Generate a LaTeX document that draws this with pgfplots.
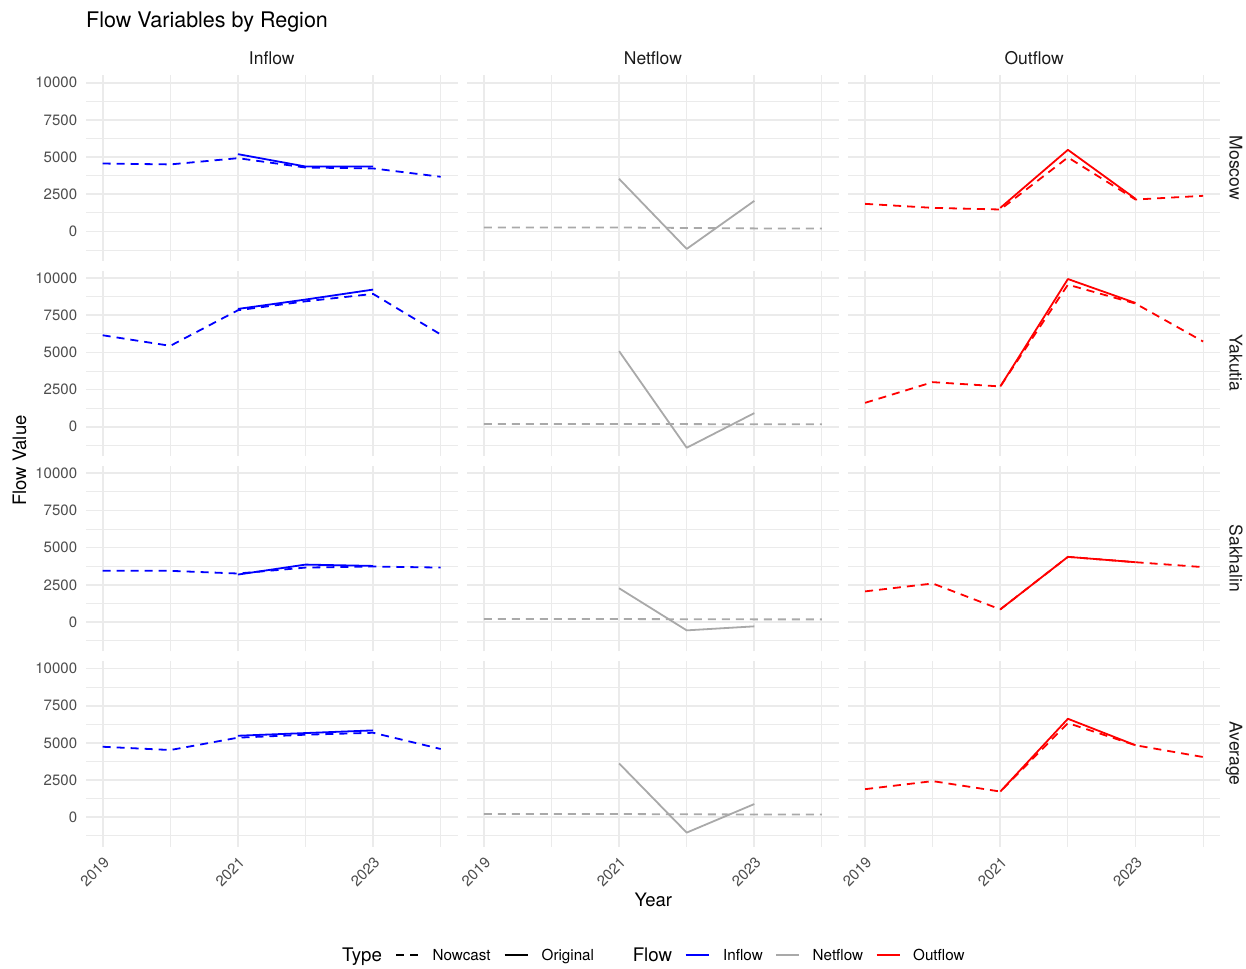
\documentclass[border=0pt]{standalone}
\usepackage{fontspec}
\setmainfont{TeX Gyre Heros}
\usepackage{pgfplots}
\pgfplotsset{compat=1.18}
\usepackage{pgfplotstable}

\definecolor{gridc}{HTML}{EBEBEB}
\definecolor{tickc}{HTML}{4D4D4D}
\definecolor{stripc}{HTML}{1A1A1A}
\definecolor{inc}{HTML}{0000FF}
\definecolor{netc}{HTML}{A9A9A9}
\definecolor{outc}{HTML}{FF0000}
\newcommand\fsz[1]{\fontsize{#1}{#1}\selectfont}
\newcommand\tl[1]{\mbox{\fontsize{15}{15}\selectfont\color{tickc}#1}}

% year, Nowcast (N) and Original (O) values per flow
\pgfplotstableread{
year inN netN outN inO netO outO
2019 4570 270 1860 nan nan nan
2020 4510 270 1590 nan nan nan
2021 4930 270 1480 5200 3540 1590
2022 4300 240 4980 4370 -1170 5490
2023 4240 210 2150 4370 2060 2200
2024 3680 200 2400 nan nan nan
}\moscow
\pgfplotstableread{
year inN netN outN inO netO outO
2019 6150 190 1610 nan nan nan
2020 5440 190 3000 nan nan nan
2021 7830 190 2710 7920 5080 2710
2022 8430 180 9550 8550 -1410 9930
2023 8930 170 8280 9220 920 8320
2024 6200 170 5730 nan nan nan
}\yakutia
\pgfplotstableread{
year inN netN outN inO netO outO
2019 3440 200 2060 nan nan nan
2020 3440 200 2590 nan nan nan
2021 3260 200 850 3190 2270 850
2022 3660 190 4380 3860 -560 4380
2023 3730 180 4020 3770 -290 4020
2024 3660 180 3690 nan nan nan
}\sakhalin
\pgfplotstableread{
year inN netN outN inO netO outO
2019 4740 220 1890 nan nan nan
2020 4520 220 2430 nan nan nan
2021 5350 220 1730 5480 3620 1730
2022 5550 200 6330 5660 -1030 6620
2023 5680 190 4840 5840 890 4840
2024 4590 190 4050 nan nan nan
}\average

\pgfplotsset{
  panel/.style={
    scale only axis, width=371.8pt, height=185.7pt, anchor=south west,
    xmin=2018.75, xmax=2024.25, ymin=-1980, ymax=10500,
    scaled x ticks=false, scaled y ticks=false,
    xtick={2019,2021,2023}, minor xtick={2020,2022,2024},
    ytick={0,2500,5000,7500,10000}, minor ytick={-1250,1250,3750,6250,8750},
    xmajorgrids, ymajorgrids, xminorgrids, yminorgrids,
    major grid style={draw=gridc, line width=1.7pt},
    minor grid style={draw=gridc, line width=0.9pt},
    axis line style={draw=none},
    major tick length=0pt, minor tick length=0pt,
    xticklabels={}, yticklabels={},
    yticklabel style={anchor=east, inner sep=0pt},
    yticklabel shift=8.5pt,
    xticklabel style={rotate=45, anchor=north east, inner sep=0pt},
    xticklabel shift=9pt,
  },
  bottomrow/.style={xticklabels={\tl{2019},\tl{2021},\tl{2023}}},
  leftcol/.style={yticklabels={\tl{0},\tl{2500},\tl{5000},\tl{7500},\tl{10000}}},
  nowst/.style={dash pattern=on 8pt off 6pt},
  ln/.style={line width=1.8pt, line join=round, no markers},
}

\begin{document}
\begin{tikzpicture}[x=1pt,y=1pt]
\useasboundingbox (0,0) rectangle (1246,968);

% ---------- Row 1: Moscow ----------
\begin{axis}[panel, leftcol, at={(85.8pt,707pt)}]
\addplot[ln, inc, nowst] table[x=year,y=inN]{\moscow};
\addplot[ln, inc] table[x=year,y=inO]{\moscow};
\end{axis}
\begin{axis}[panel, at={(467.0pt,707pt)}]
\addplot[ln, netc, nowst] table[x=year,y=netN]{\moscow};
\addplot[ln, netc] table[x=year,y=netO]{\moscow};
\end{axis}
\begin{axis}[panel, at={(848.2pt,707pt)}]
\addplot[ln, outc, nowst] table[x=year,y=outN]{\moscow};
\addplot[ln, outc] table[x=year,y=outO]{\moscow};
\end{axis}

% ---------- Row 2: Yakutia ----------
\begin{axis}[panel, leftcol, at={(85.8pt,511.75pt)}]
\addplot[ln, inc, nowst] table[x=year,y=inN]{\yakutia};
\addplot[ln, inc] table[x=year,y=inO]{\yakutia};
\end{axis}
\begin{axis}[panel, at={(467.0pt,511.75pt)}]
\addplot[ln, netc, nowst] table[x=year,y=netN]{\yakutia};
\addplot[ln, netc] table[x=year,y=netO]{\yakutia};
\end{axis}
\begin{axis}[panel, at={(848.2pt,511.75pt)}]
\addplot[ln, outc, nowst] table[x=year,y=outN]{\yakutia};
\addplot[ln, outc] table[x=year,y=outO]{\yakutia};
\end{axis}

% ---------- Row 3: Sakhalin ----------
\begin{axis}[panel, leftcol, at={(85.8pt,316.5pt)}]
\addplot[ln, inc, nowst] table[x=year,y=inN]{\sakhalin};
\addplot[ln, inc] table[x=year,y=inO]{\sakhalin};
\end{axis}
\begin{axis}[panel, at={(467.0pt,316.5pt)}]
\addplot[ln, netc, nowst] table[x=year,y=netN]{\sakhalin};
\addplot[ln, netc] table[x=year,y=netO]{\sakhalin};
\end{axis}
\begin{axis}[panel, at={(848.2pt,316.5pt)}]
\addplot[ln, outc, nowst] table[x=year,y=outN]{\sakhalin};
\addplot[ln, outc] table[x=year,y=outO]{\sakhalin};
\end{axis}

% ---------- Row 4: Average ----------
\begin{axis}[panel, leftcol, bottomrow, at={(85.8pt,121.25pt)}]
\addplot[ln, inc, nowst] table[x=year,y=inN]{\average};
\addplot[ln, inc] table[x=year,y=inO]{\average};
\end{axis}
\begin{axis}[panel, bottomrow, at={(467.0pt,121.25pt)}]
\addplot[ln, netc, nowst] table[x=year,y=netN]{\average};
\addplot[ln, netc] table[x=year,y=netO]{\average};
\end{axis}
\begin{axis}[panel, bottomrow, at={(848.2pt,121.25pt)}]
\addplot[ln, outc, nowst] table[x=year,y=outN]{\average};
\addplot[ln, outc] table[x=year,y=outO]{\average};
\end{axis}

% ---------- Titles and strips ----------
\node[anchor=base west, inner sep=0pt, font=\fsz{21.5}] at (86,940) {Flow Variables by Region};
\node[anchor=base, inner sep=0pt, font=\fsz{17.5}, text=stripc] at (271.7,903.7) {Inflow};
\node[anchor=base, inner sep=0pt, font=\fsz{17.5}, text=stripc] at (652.9,903.7) {Netflow};
\node[anchor=base, inner sep=0pt, font=\fsz{17.5}, text=stripc] at (1034.1,903.7) {Outflow};
\node[anchor=base, rotate=-90, inner sep=0pt, font=\fsz{17.5}, text=stripc] at (1229.5,800.1) {Moscow};
\node[anchor=base, rotate=-90, inner sep=0pt, font=\fsz{17.5}, text=stripc] at (1229.5,604.9) {Yakutia};
\node[anchor=base, rotate=-90, inner sep=0pt, font=\fsz{17.5}, text=stripc] at (1229.5,409.6) {Sakhalin};
\node[anchor=base, rotate=-90, inner sep=0pt, font=\fsz{17.5}, text=stripc] at (1229.5,214.4) {Average};
\node[anchor=base, rotate=90, inner sep=0pt, font=\fsz{18.5}] at (26,507.5) {Flow Value};
\node[anchor=base, inner sep=0pt, font=\fsz{18.5}] at (653.3,61.8) {Year};

% ---------- Legend ----------
\node[anchor=base west, inner sep=0pt, font=\fsz{18.7}] at (342,6.3) {Type};
\draw[black, line width=1.8pt, dash pattern=on 8pt off 6pt] (396,13) -- (419,13);
\node[anchor=base west, inner sep=0pt, font=\fsz{15.2}] at (432.5,7.5) {Nowcast};
\draw[black, line width=1.8pt] (504.5,13) -- (527.5,13);
\node[anchor=base west, inner sep=0pt, font=\fsz{15.2}] at (541.5,7.5) {Original};
\node[anchor=base west, inner sep=0pt, font=\fsz{18.7}] at (632.6,6.3) {Flow};
\draw[inc, line width=1.8pt] (685.5,13) -- (708.5,13);
\node[anchor=base west, inner sep=0pt, font=\fsz{15.2}] at (723,7.5) {Inflow};
\draw[netc, line width=1.8pt] (776,13) -- (799,13);
\node[anchor=base west, inner sep=0pt, font=\fsz{15.2}] at (812.5,7.5) {Netflow};
\draw[outc, line width=1.8pt] (876.5,13) -- (899.5,13);
\node[anchor=base west, inner sep=0pt, font=\fsz{15.2}] at (913,7.5) {Outflow};
\end{tikzpicture}
\end{document}
